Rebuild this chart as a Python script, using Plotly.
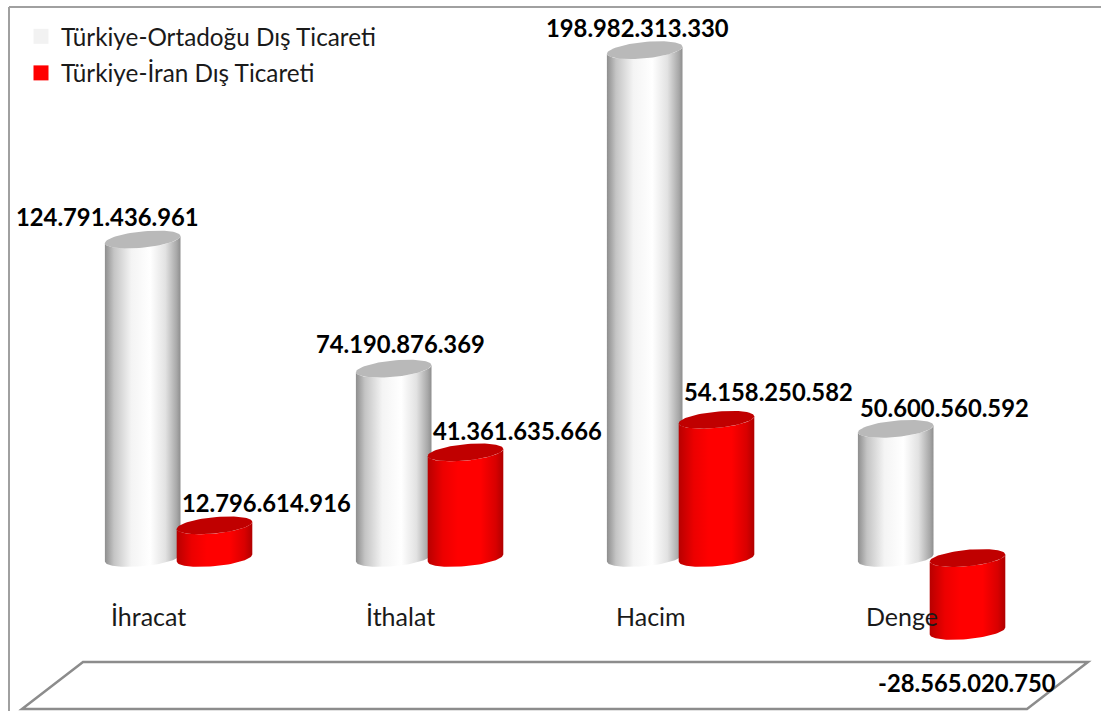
import numpy as np
import plotly.graph_objects as go

W, H = 1101, 711
FONT = 'Lato'

categories = ['İhracat', 'İthalat', 'Hacim', 'Denge']
ortadogu = [124791436961, 74190876369, 198982313330, 50600560592]
iran = [12796614916, 41361635666, 54158250582, -28565020750]

# pixel scale of the value axis, zero sits at y=558 in the picture
px_per_value = 2.552e-9
zero_px = 558
# category axis, first group centre at 178.6 and 251 px between groups
px_per_cat = 251
first_cat_px = 178.6

half_w = 37.8 / px_per_cat
offset = 35.9 / px_per_cat
rim_b = 8.2 / px_per_value    # ellipse height
rim_k = 3.5 / px_per_value    # tilt, right side sits higher


def ellipse(cx, cy, t):
    return cx + half_w * np.cos(t), cy + rim_b * np.sin(t) + rim_k * np.cos(t)


def add_cylinder(fig, cx, value, scale, top_color):
    hi, lo = max(value, 0), min(value, 0)
    t = np.linspace(np.pi, 2 * np.pi, 40)
    x1, y1 = ellipse(cx, lo, t)
    x2, y2 = ellipse(cx, hi, t[::-1])
    fig.add_trace(go.Scatter(
        x=np.concatenate([x1, x2]), y=np.concatenate([y1, y2]),
        mode='lines', line=dict(width=0), fill='toself',
        fillgradient=dict(type='horizontal', colorscale=scale),
        hoverinfo='skip', showlegend=False,
    ))
    t = np.linspace(0, 2 * np.pi, 80)
    x3, y3 = ellipse(cx, hi, t)
    fig.add_trace(go.Scatter(
        x=x3, y=y3, mode='lines', line=dict(width=0), fill='toself',
        fillcolor=top_color, hoverinfo='skip', showlegend=False,
    ))


grey_scale = [[0, '#8e8e8e'], [0.12, '#c4c4c4'], [0.35, '#f4f4f4'], [0.6, '#ffffff'],
              [0.8, '#e2e2e2'], [0.95, '#a8a8a8'], [1, '#8e8e8e']]
red_scale = [[0, '#b80000'], [0.2, '#ec0000'], [0.4, '#ff0000'], [0.7, '#ff0000'],
             [0.9, '#d80000'], [1, '#b00000']]

fig = go.Figure()
for i in range(len(categories)):
    add_cylinder(fig, i - offset, ortadogu[i], grey_scale, '#b9b9b9')
    add_cylinder(fig, i + offset, iran[i], red_scale, '#c00000')

# legend entries
for name, color in [('Türkiye-Ortadoğu Dış Ticareti', '#f2f2f2'), ('Türkiye-İran Dış Ticareti', '#ff0000')]:
    fig.add_trace(go.Scatter(
        x=[None], y=[None], mode='markers', name=name, legendgroup=name,
        marker=dict(symbol='square', size=15, color=color),
    ))


def tr_number(v):
    return f'{v:,}'.replace(',', '.')


# data labels were dragged by hand in the original, so each has its own shift
white_shift = [(-35, 23), (7, 25), (-7, 22), (49, 21)]
red_shift = [(52, 22), (52, 21), (52, 28), (-1, -52)]
for i in range(len(categories)):
    for x, v, (dx, dy) in [(i - offset, ortadogu[i], white_shift[i]),
                           (i + offset, iran[i], red_shift[i])]:
        fig.add_annotation(x=x, y=v, text=f'<b>{tr_number(v)}</b>', showarrow=False,
                           xshift=dx, yshift=dy, font=dict(family=FONT, size=23.8, color='#000000'))

cat_shift = [-30, -29, -30, -30]
for i, c in enumerate(categories):
    fig.add_annotation(x=i, y=0, text=c, showarrow=False, xshift=cat_shift[i], yshift=-58,
                       font=dict(family=FONT, size=25, color='#1a1a1a'))


def px(x):
    return x / W


def py(y):
    return 1 - y / H


# outer frame and the floor shape
frame = dict(type='line', xref='paper', yref='paper', line=dict(color='#a0a0a0', width=2), layer='below')
fig.add_shape(x0=px(9), x1=px(9), y0=py(7), y1=py(711), **frame)
fig.add_shape(x0=px(9), x1=px(1101), y0=py(7), y1=py(7), **frame)
floor = [(83, 662), (1088, 662), (1027, 709), (22, 709)]
path = 'M ' + ' L '.join(f'{px(a):.5f} {py(b):.5f}' for a, b in floor) + ' Z'
fig.add_shape(type='path', xref='paper', yref='paper', path=path,
              line=dict(color='#8c8c8c', width=2.5), layer='below')

fig.update_xaxes(visible=False, range=[-first_cat_px / px_per_cat, (W - first_cat_px) / px_per_cat])
fig.update_yaxes(visible=False, range=[(zero_px - H) / px_per_value, zero_px / px_per_value])
fig.update_layout(
    width=W, height=H,
    margin=dict(l=0, r=0, t=0, b=0),
    paper_bgcolor='white', plot_bgcolor='rgba(0,0,0,0)',
    font=dict(family=FONT),
    legend=dict(x=px(21), y=py(14), xanchor='left', yanchor='top', bgcolor='rgba(0,0,0,0)',
                traceorder='grouped', tracegroupgap=2, itemclick=False, itemdoubleclick=False,
                font=dict(family=FONT, size=24.3, color='#1a1a1a')),
)

# page body has a default margin that would push the chart off the window
fig.write_html('out.html', config={'displayModeBar': False}, post_script="document.body.style.margin='0';")
